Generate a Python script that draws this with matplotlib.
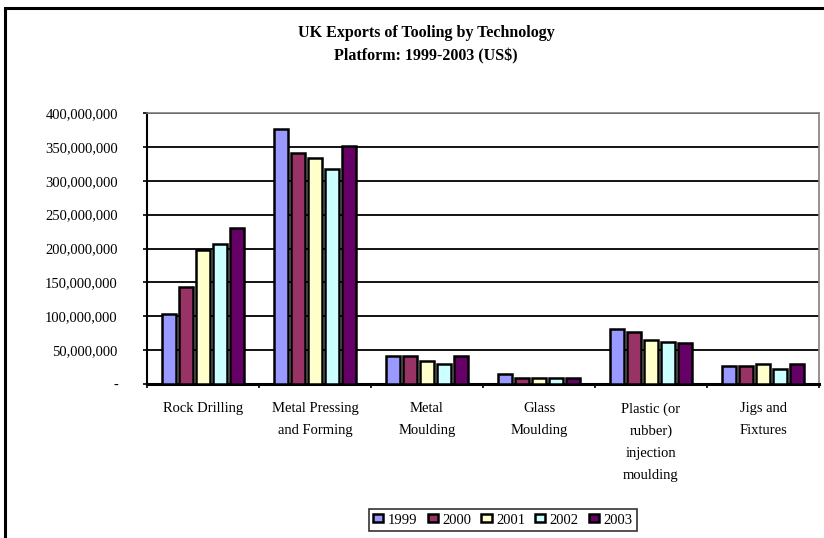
import matplotlib
matplotlib.use("Agg")
import matplotlib.pyplot as plt
import numpy as np
from matplotlib.patches import Rectangle, Patch

plt.rcParams['font.family'] = ['Liberation Serif', 'DejaVu Serif']

categories = ["Rock Drilling", "Metal Pressing\nand Forming", "Metal\nMoulding",
              "Glass\nMoulding", "Plastic (or\nrubber)\ninjection\nmoulding", "Jigs and\nFixtures"]
years = ["1999", "2000", "2001", "2002", "2003"]
v1999 = [103e6, 376e6, 41e6, 15e6, 81e6, 26e6]
v2000 = [143e6, 341e6, 41e6, 9e6, 77e6, 26e6]
v2001 = [198e6, 333e6, 34e6, 9e6, 65e6, 30e6]
v2002 = [207e6, 317e6, 30e6, 9e6, 62e6, 22e6]
v2003 = [230e6, 352e6, 41e6, 9e6, 61e6, 30e6]
series = [v1999, v2000, v2001, v2002, v2003]
colors = ["#9999FF", "#993366", "#FFFFCC", "#CCFFFF", "#660066"]
yticks = [0, 50e6, 100e6, 150e6, 200e6, 250e6, 300e6, 350e6, 400e6]
ytick_labels = ["-", "50,000,000", "100,000,000", "150,000,000", "200,000,000",
                "250,000,000", "300,000,000", "350,000,000", "400,000,000"]

W, H = 824, 538
fig = plt.figure(figsize=(W / 100, H / 100), dpi=100)

# outer frame
fig.patches.append(Rectangle((5 / W, -0.1), 1.1, 1 - 8 / H + 0.1, transform=fig.transFigure,
                             fill=False, edgecolor="black", linewidth=2.2, clip_on=False))

left, right, top, bottom = 147, 819, 113, 384
ax = fig.add_axes([left / W, 1 - bottom / H, (right - left) / W, (bottom - top) / H])

x = np.arange(len(categories))
step = 0.152
bw = 0.133
for i, (vals, c, yr) in enumerate(zip(series, colors, years)):
    ax.bar(x + (i - 2) * step, vals, width=bw, color=c, edgecolor="black",
           linewidth=1.8, label=yr, zorder=3)

ax.set_xlim(-0.5, len(categories) - 0.5)
ax.set_ylim(0, 400e6)
ax.set_yticks(yticks)
ax.set_yticklabels(ytick_labels, fontsize=10.5)
ax.yaxis.grid(True, color="black", linewidth=1.3, zorder=0)
ax.set_axisbelow(True)

ax.set_xticks(x)
ax.set_xticklabels(categories, fontsize=10.5, linespacing=1.9)
ax.tick_params(axis="x", which="major", length=0, pad=13)
ax.set_xticks(np.arange(-0.5, len(categories) + 0.5, 1), minor=True)
ax.tick_params(axis="x", which="minor", length=3, width=1.2, direction="out")
ax.tick_params(axis="y", length=3, width=1.2, pad=18)

for s in ["top", "right"]:
    ax.spines[s].set_color("#808080")
    ax.spines[s].set_linewidth(1.2)
ax.spines["left"].set_linewidth(1.5)
ax.spines["bottom"].set_linewidth(2.2)

fig.text(426 / W, 1 - 33 / H, "UK Exports of Tooling by Technology", ha="center", va="center",
         fontsize=11.5, fontweight="bold")
fig.text(426 / W, 1 - 56 / H, "Platform: 1999-2003 (US$)", ha="center", va="center",
         fontsize=11.5, fontweight="bold")

handles = [Patch(facecolor=c, edgecolor="black", linewidth=1.8) for c in colors]
leg = fig.legend(handles, years, loc="center", bbox_to_anchor=(503 / W, 1 - 520 / H),
                 ncol=5, frameon=True, fancybox=False, fontsize=10.5, handlelength=0.7,
                 handleheight=0.5, handletextpad=0.3, columnspacing=0.7,
                 borderpad=0.3, edgecolor="black")
leg.get_frame().set_linewidth(1.2)

fig.savefig("out.png", dpi=100)
